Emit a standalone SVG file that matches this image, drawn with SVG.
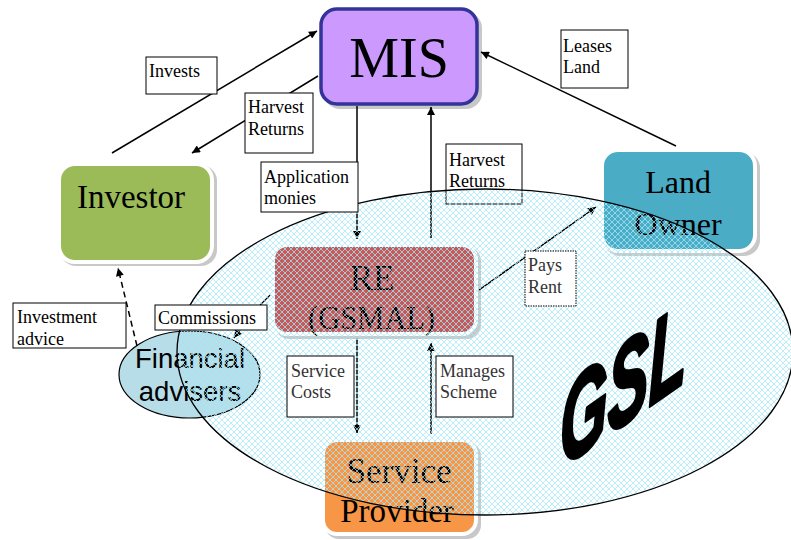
<svg xmlns="http://www.w3.org/2000/svg" width="791" height="540" viewBox="0 0 791 540">
<defs>
<pattern id="hatch" width="6" height="6" patternUnits="userSpaceOnUse"><path d="M0,0 L6,6 M6,0 L0,6" stroke="#a6e8f8" stroke-width="0.75" fill="none"/></pattern>
<marker id="ah" viewBox="0 0 10 10" refX="10" refY="5" markerWidth="10" markerHeight="8" markerUnits="userSpaceOnUse" orient="auto"><path d="M0,0 L10,5 L0,10 z" fill="#000"/></marker>
<style>
.shadow{fill:#c8c8c8}
.node{stroke:#fff;stroke-width:4}
.ntext{font-family:"Liberation Serif","Times New Roman",serif;fill:#000}
.conn{stroke:#000;stroke-width:1.5;fill:none}
.lbox{fill:#fff;stroke:#000;stroke-width:1}
.ltext{font-family:"Liberation Serif","Times New Roman",serif;font-size:18px;fill:#000}
.gray{fill:#333}
</style>
</defs>
<rect width="791" height="540" fill="#fff"/>

<g id="node-mis">
<rect x="324" y="12" width="158" height="97" rx="16" class="shadow"/>
<rect x="321" y="9" width="156" height="95" rx="16" fill="#cc99ff" stroke="#333399" stroke-width="3.5"/>
<text x="399" y="77" text-anchor="middle" class="ntext" font-size="56">MIS</text>
</g>

<g id="node-investor">
<rect x="60" y="165" width="157" height="101" rx="16" class="shadow"/>
<rect x="59" y="164" width="153" height="98" rx="16" fill="#9bbb59" class="node"/>
<text x="131" y="208" text-anchor="middle" class="ntext" font-size="33">Investor</text>
</g>

<g id="node-landowner">
<rect x="604" y="152" width="156" height="104" rx="16" class="shadow"/>
<rect x="602" y="150" width="153" height="101" rx="16" fill="#4bacc6" class="node"/>
<text x="678" y="193" text-anchor="middle" class="ntext" font-size="32">Land</text>
<text x="678" y="235" text-anchor="middle" class="ntext" font-size="32">Owner</text>
</g>

<g id="node-re">
<rect x="275" y="247" width="206" height="92" rx="14" class="shadow"/>
<rect x="273" y="245" width="203" height="89" rx="14" fill="#c45a5a" class="node"/>
<text x="372" y="290" text-anchor="middle" class="ntext" font-size="35" fill="#1a2a2a">RE</text>
<text x="308" y="329" class="ntext" font-size="33" textLength="127" lengthAdjust="spacingAndGlyphs">(GSMAL)</text>
</g>

<g id="node-serviceprovider">
<rect x="325" y="442" width="156" height="97" rx="14" class="shadow"/>
<rect x="323" y="440" width="153" height="94" rx="14" fill="#f79646" class="node"/>
<text x="399" y="483" text-anchor="middle" class="ntext" font-size="35">Service</text>
<text x="397" y="522" text-anchor="middle" class="ntext" font-size="33">Provider</text>
</g>

<g id="node-financial">
<ellipse cx="189.5" cy="374.5" rx="70.5" ry="43.5" fill="#b7dde8" stroke="#000" stroke-width="1.2"/>
<text x="190" y="368" text-anchor="middle" font-family="Liberation Sans, Arial, sans-serif" font-size="27.5" fill="#000">Financial</text>
<text x="190" y="401" text-anchor="middle" font-family="Liberation Sans, Arial, sans-serif" font-size="27.5" fill="#000">advisers</text>
</g>

<g id="connectors">
<line x1="112" y1="153" x2="317" y2="31" class="conn" marker-end="url(#ah)"/>
<line x1="318" y1="76" x2="192" y2="153" class="conn" marker-end="url(#ah)"/>
<line x1="357" y1="106" x2="357" y2="239" class="conn" marker-end="url(#ah)"/>
<line x1="431" y1="238" x2="431" y2="107" class="conn" marker-end="url(#ah)"/>
<line x1="676" y1="146" x2="481" y2="52" class="conn" marker-end="url(#ah)"/>
<line x1="479" y1="290" x2="596" y2="207" class="conn" marker-end="url(#ah)"/>
<line x1="357" y1="338" x2="357" y2="433" class="conn" marker-end="url(#ah)"/>
<line x1="431" y1="434" x2="431" y2="343" class="conn" marker-end="url(#ah)"/>
<path d="M270,295 Q252,312 234,338" class="conn" marker-end="url(#ah)"/>
<line x1="137" y1="346" x2="118" y2="268" class="conn" stroke-dasharray="6,4" marker-end="url(#ah)"/>
<g id="label-harvest-returns-re">
<rect x="446" y="144" width="76" height="60" class="lbox"/>
<text x="449" y="166" class="ltext">Harvest</text>
<text x="449" y="187" class="ltext">Returns</text>
</g>
</g>

<g id="gsl">
<ellipse cx="485" cy="352" rx="308" ry="163" fill="url(#hatch)" stroke="#000" stroke-width="1.3"/>
<text transform="translate(560,469) skewY(-35) scale(0.53,1)" font-family="Liberation Sans, Arial, sans-serif" font-weight="bold" font-style="italic" font-size="116" fill="#000" stroke="#000" stroke-width="4" stroke-linejoin="round">GSL</text>
</g>

<g id="labels">
<rect x="146" y="57" width="71" height="37" class="lbox"/>
<text x="149" y="77" class="ltext">Invests</text>
<rect x="245" y="93" width="68" height="60" class="lbox"/>
<text x="248" y="113" class="ltext">Harvest</text>
<text x="248" y="135" class="ltext">Returns</text>
<rect x="261" y="162" width="97" height="50" class="lbox"/>
<text x="264" y="183" class="ltext">Application</text>
<text x="264" y="204" class="ltext">monies</text>
<rect x="561" y="30" width="67" height="58" class="lbox"/>
<text x="563" y="52" class="ltext">Leases</text>
<text x="563" y="73" class="ltext">Land</text>
<rect x="525" y="251" width="51" height="55" class="lbox" stroke-dasharray="1.5,1"/>
<text x="528" y="271" class="ltext gray">Pays</text>
<text x="528" y="293" class="ltext gray">Rent</text>
<rect x="13" y="303" width="113" height="45" class="lbox"/>
<text x="17" y="323" class="ltext">Investment</text>
<text x="17" y="345" class="ltext">advice</text>
<rect x="155" y="305" width="112" height="25" class="lbox"/>
<text x="158" y="324" class="ltext">Commissions</text>
<rect x="287" y="356" width="67" height="61" class="lbox" stroke="#333"/>
<text x="291" y="377" class="ltext gray">Service</text>
<text x="291" y="398" class="ltext gray">Costs</text>
<rect x="436" y="356" width="77" height="61" class="lbox" stroke="#333"/>
<text x="440" y="377" class="ltext gray">Manages</text>
<text x="440" y="398" class="ltext gray">Scheme</text>
</g>
</svg>
